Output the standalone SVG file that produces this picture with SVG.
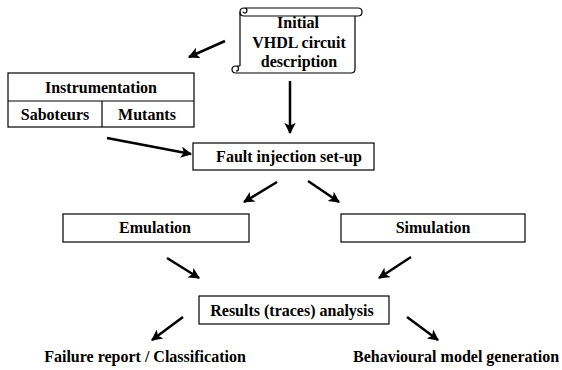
<svg xmlns="http://www.w3.org/2000/svg" width="562" height="370" viewBox="0 0 562 370">
<defs>
<marker id="ah" viewBox="0 0 10 10" refX="9" refY="5" markerWidth="4.5" markerHeight="4.5" orient="auto" markerUnits="strokeWidth">
<path d="M0,0 L10,5 L0,10 L2.5,5 Z" fill="#000"/>
</marker>
</defs>
<style>
.ln{fill:none;stroke:#000;stroke-width:1.2}
.box{fill:#fff;stroke:#000;stroke-width:1.2}
.t{font-family:"Liberation Serif","Times New Roman",serif;font-weight:bold;font-size:16px;text-anchor:middle;fill:#000}
.c{stroke:#000;stroke-width:2.5;fill:none;marker-end:url(#ah)}
</style>
<rect width="562" height="370" fill="#fff"/>
<g id="vhdl">
<path fill="#fff" d="M240,12 L355,12 L355,73 L236,73 Q232,73 232,69.5 Q232,66 236,66 L240,66 Z"/>
<path class="ln" d="M240,12 L240,66 M355,16 L355,69 Q355,73 351,73 L236,73 Q232,73 232,69.5 Q232,66 236,66 L240,66 M236,66 Q238.5,66 238.5,69 Q238.5,71 236,71"/>
<path class="ln" d="M244,16 L358,16 Q362,16 362,12 Q362,8 358,8 L244,8 Q240,8 240,12 Q240,16 244,16 M244,8 Q247,8 247,10.5 Q247,13 244.5,13 Q243,13 243,11.5"/>
<text class="t" x="298" y="28">Initial</text>
<text class="t" x="299" y="48">VHDL circuit</text>
<text class="t" x="299" y="67">description</text>
</g>
<g id="instrumentation">
<rect class="box" x="8" y="73" width="186" height="54"/>
<line class="ln" x1="8" y1="101" x2="194" y2="101"/>
<line class="ln" x1="102" y1="101" x2="102" y2="127"/>
<text class="t" x="101" y="93">Instrumentation</text>
<text class="t" x="55" y="120">Saboteurs</text>
<text class="t" x="147" y="120">Mutants</text>
</g>
<g id="fault">
<rect class="box" x="193" y="143" width="181" height="27"/>
<text class="t" x="289" y="162">Fault injection set-up</text>
</g>
<g id="emulation">
<rect class="box" x="63" y="214" width="186" height="28"/>
<text class="t" x="155" y="233">Emulation</text>
</g>
<g id="simulation">
<rect class="box" x="341" y="214" width="184" height="28"/>
<text class="t" x="433" y="233">Simulation</text>
</g>
<g id="results">
<rect class="box" x="199" y="296" width="190" height="28"/>
<text class="t" x="292" y="316">Results (traces) analysis</text>
</g>
<g id="failure">
<text class="t" x="145" y="362">Failure report / Classification</text>
</g>
<g id="behavioural">
<text class="t" x="353" y="362" style="text-anchor:start">Behavioural model generation</text>
</g>
<g id="connectors">
<line class="c" x1="225" y1="41" x2="189" y2="57"/>
<line class="c" x1="290" y1="81" x2="290" y2="133"/>
<line class="c" x1="107" y1="138" x2="191" y2="154"/>
<line class="c" x1="277" y1="182" x2="244" y2="202"/>
<line class="c" x1="308" y1="181" x2="339" y2="202"/>
<line class="c" x1="167" y1="258" x2="199" y2="278"/>
<line class="c" x1="411" y1="257" x2="379" y2="278"/>
<line class="c" x1="183" y1="317" x2="152" y2="340"/>
<line class="c" x1="407" y1="317" x2="438" y2="340"/>
</g>
</svg>
